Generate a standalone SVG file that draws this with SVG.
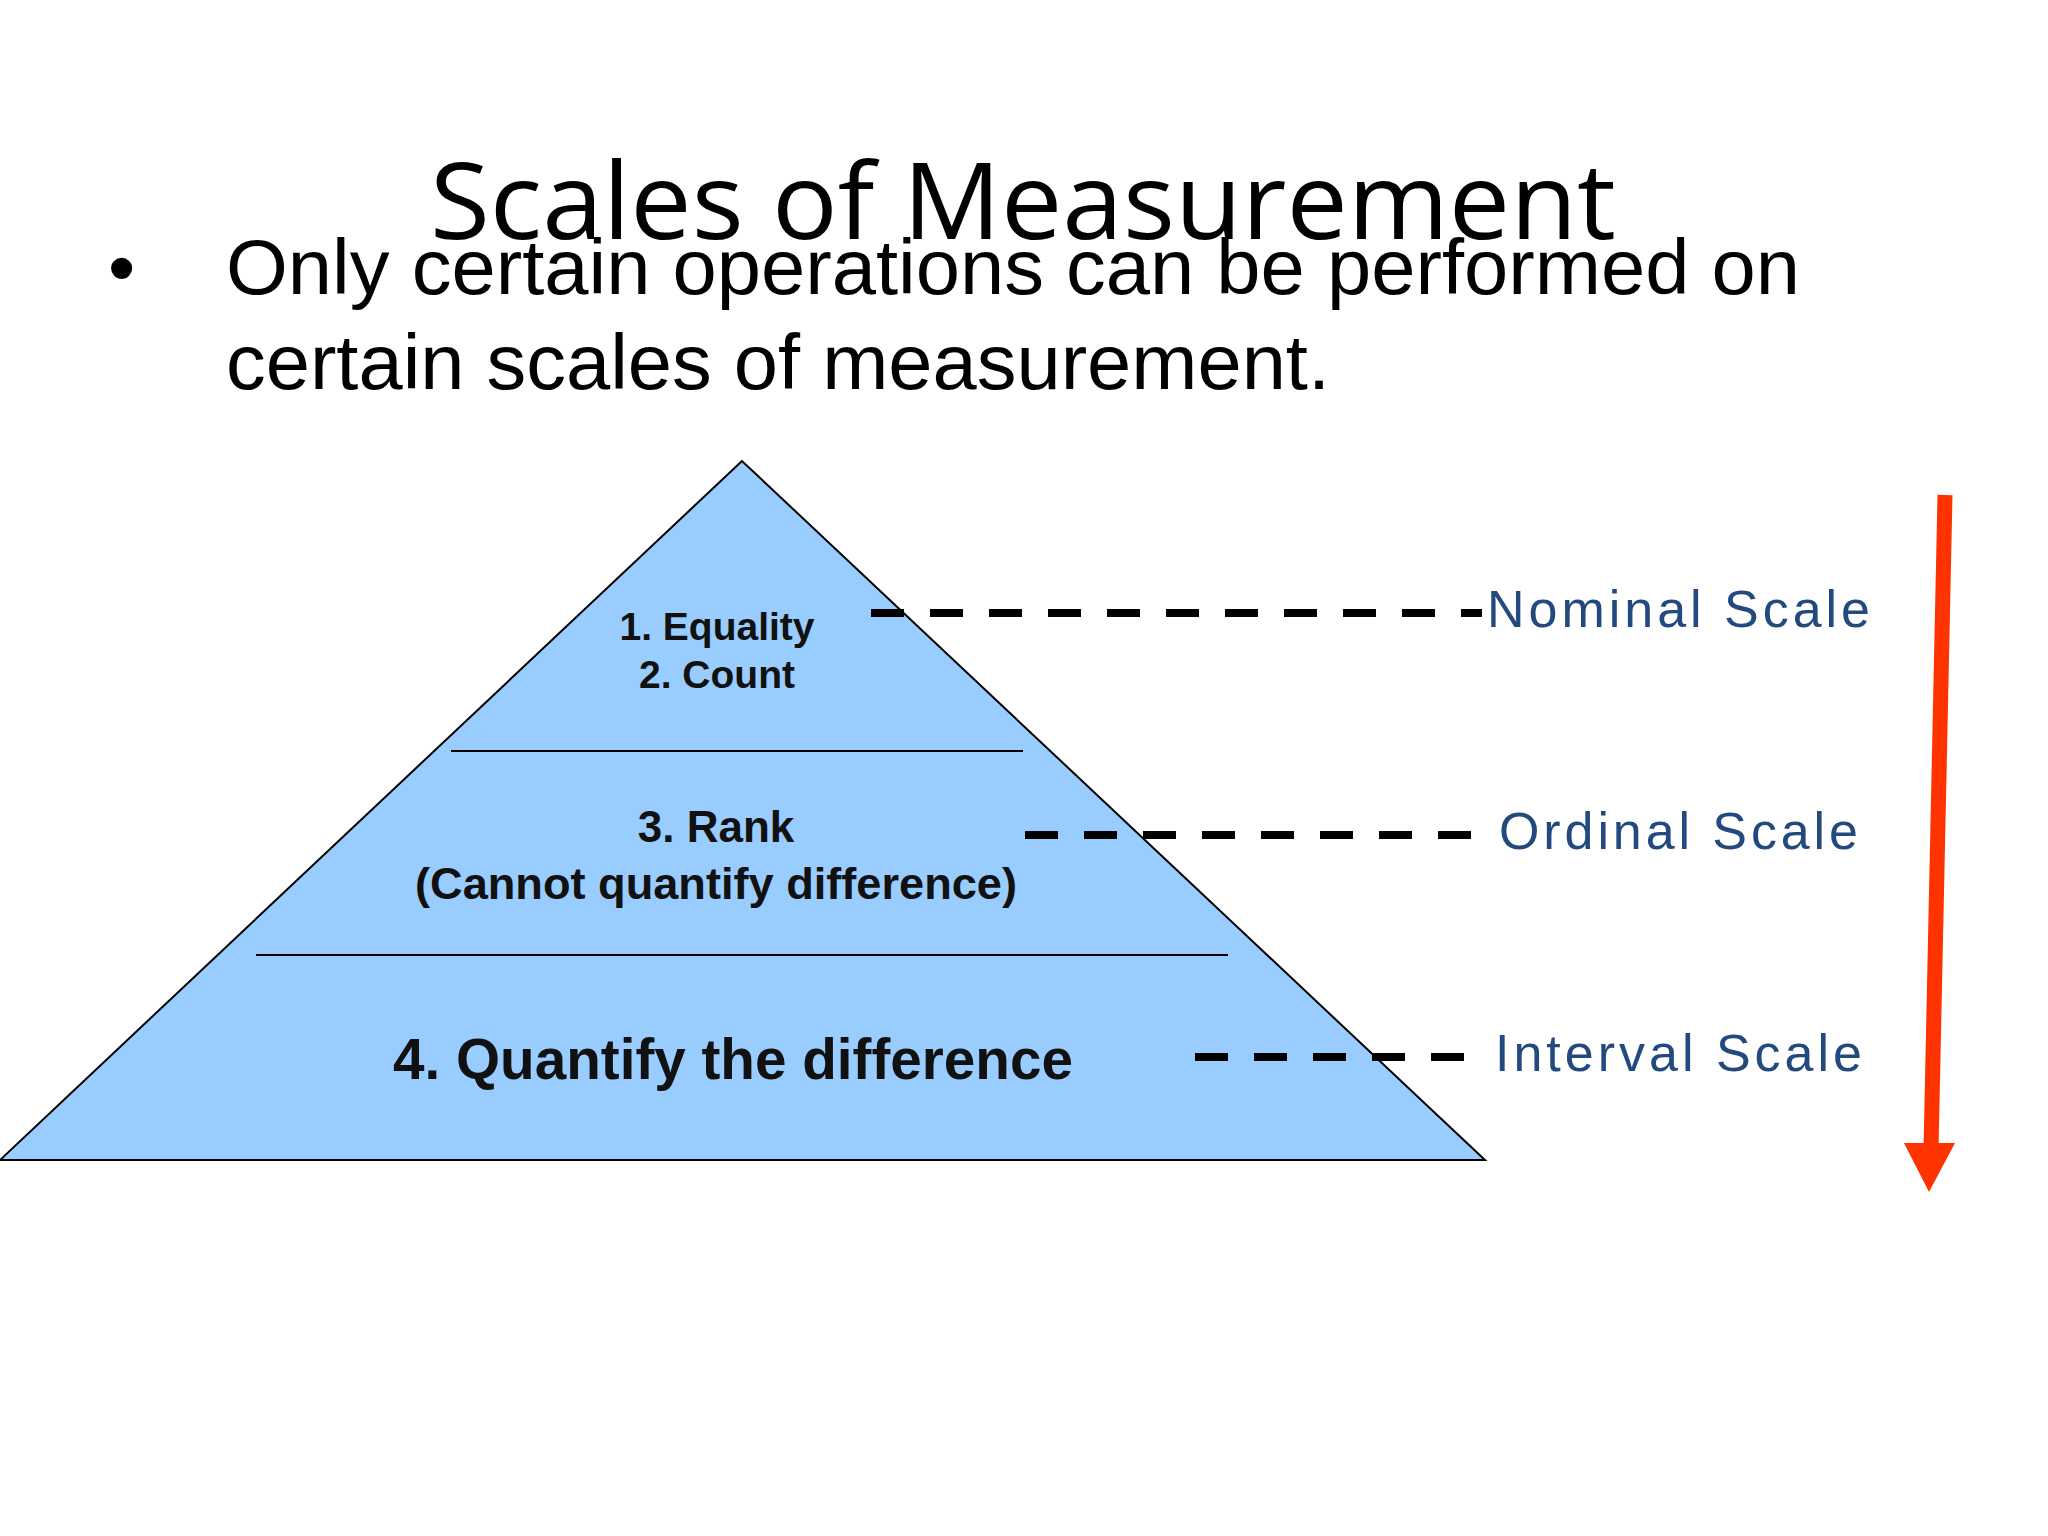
<svg xmlns="http://www.w3.org/2000/svg" width="2048" height="1536" viewBox="0 0 2048 1536">
<style>
.b{font-family:"Liberation Sans",Arial,sans-serif;font-weight:bold;fill:#111;text-anchor:middle}
.lab{font-family:"Liberation Sans",Arial,sans-serif;font-size:52px;fill:#234a7f}
.dash{stroke:#000;stroke-width:8;stroke-dasharray:33 26;fill:none}
</style>
<rect width="2048" height="1536" fill="#fff"/>
<text x="1023" y="239" font-family="Open Sans, Noto Sans, sans-serif" font-size="106" text-anchor="middle" fill="#000" textLength="1186" lengthAdjust="spacingAndGlyphs">Scales of Measurement</text>
<g font-family="Liberation Sans, Arial, sans-serif" font-size="78" fill="#000">
<text x="108" y="294">•</text>
<text x="226" y="294" textLength="1574" lengthAdjust="spacingAndGlyphs">Only certain operations can be performed on</text>
<text x="226" y="389" textLength="1104" lengthAdjust="spacingAndGlyphs">certain scales of measurement.</text>
</g>
<g id="pyramid">
<polygon points="742,461 0,1160 1485,1160" fill="#99ccff" stroke="#000" stroke-width="2"/>
<line x1="451" y1="751" x2="1023" y2="751" stroke="#000" stroke-width="2"/>
<line x1="256" y1="955" x2="1228" y2="955" stroke="#000" stroke-width="2"/>
</g>
<g id="n1"><text class="b" x="717" y="640" font-size="39">1. Equality</text><text class="b" x="717" y="688" font-size="39">2. Count</text></g>
<g id="n2"><text class="b" x="716" y="842" font-size="44">3. Rank</text><text class="b" x="716" y="899" font-size="44" textLength="602" lengthAdjust="spacingAndGlyphs">(Cannot quantify difference)</text></g>
<g id="n3"><text class="b" x="733" y="1079" font-size="57" textLength="680" lengthAdjust="spacingAndGlyphs">4. Quantify the difference</text></g>
<g id="connectors">
<line class="dash" x1="871" y1="613" x2="1482" y2="613"/>
<line class="dash" x1="1025" y1="835" x2="1476" y2="835"/>
<line class="dash" x1="1195" y1="1057" x2="1465" y2="1057"/>
<line x1="1945" y1="495" x2="1931" y2="1150" stroke="#ff3300" stroke-width="15"/>
<polygon points="1904,1143 1955,1143 1929,1192" fill="#ff3300"/>
</g>
<g id="labels">
<text class="lab" x="1487" y="627" textLength="383" lengthAdjust="spacing">Nominal Scale</text>
<text class="lab" x="1499" y="849" textLength="359" lengthAdjust="spacing">Ordinal Scale</text>
<text class="lab" x="1495" y="1071" textLength="367" lengthAdjust="spacing">Interval Scale</text>
</g>
</svg>
